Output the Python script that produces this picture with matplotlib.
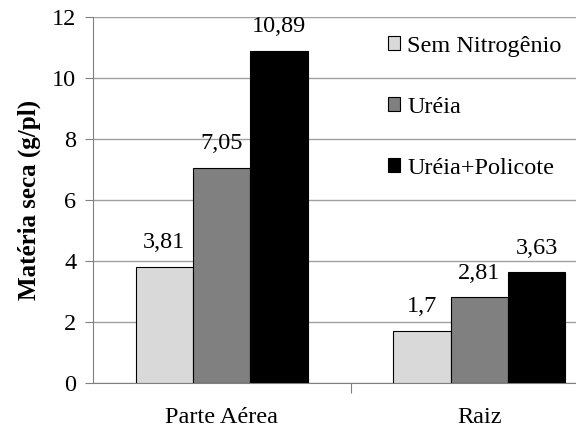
import numpy as np
import matplotlib.pyplot as plt

plt.rcParams['font.family'] = ['Liberation Serif', 'DejaVu Serif']

categorias = ['Parte Aérea', 'Raiz']
series = ['Sem Nitrogênio', 'Uréia', 'Uréia+Policote']
sem_n = [3.81, 1.7]
ureia = [7.05, 2.81]
ureia_pol = [10.89, 3.63]
rotulos = [['3,81', '1,7'], ['7,05', '2,81'], ['10,89', '3,63']]
cores = ['#d9d9d9', '#808080', '#000000']

fig = plt.figure(figsize=(5.76, 4.29), dpi=100)
ax = fig.add_axes([93/576, (429-383)/429, (608-93)/576, (383-17)/429])

x = np.arange(len(categorias))
w = 0.223
valores = [sem_n, ureia, ureia_pol]
for i, (v, c) in enumerate(zip(valores, cores)):
    bars = ax.bar(x + (i-1)*w, v, w, color=c, edgecolor='black', linewidth=0.8,
                  label=series[i], zorder=3)
    for b, t in zip(bars, rotulos[i]):
        ax.text(b.get_x() + b.get_width()/2, b.get_height() + 0.45, t,
                ha='center', va='bottom', fontsize=17.5)

ax.set_xlim(-0.5, 1.5)
ax.set_ylim(0, 12)
ax.set_yticks(range(0, 13, 2))
ax.set_xticks([0.5])
ax.set_xticklabels([''])
ax.tick_params(axis='x', length=7, color='#808080')
ax.tick_params(axis='y', length=6, color='#808080', labelsize=17.5, pad=6)
for xi, nome in zip(x, categorias):
    ax.text(xi, -0.8, nome, ha='center', va='top', fontsize=17.5)
ax.grid(axis='y', color='#a0a0a0', linewidth=1, zorder=0)
for s in ['top', 'right']:
    ax.spines[s].set_visible(False)
for s in ['left', 'bottom']:
    ax.spines[s].set_color('#808080')
ax.set_ylabel('Matéria seca (g/pl)', fontsize=18, fontweight='bold', labelpad=8)

leg = fig.legend(loc='upper left', bbox_to_anchor=(378/576, 1 - 26/429), frameon=False,
                 fontsize=17.5, labelspacing=1.65, handlelength=0.5, handleheight=0.5,
                 handletextpad=0.3, borderaxespad=0)
for h in leg.legend_handles:
    h.set_linewidth(0.8)

fig.savefig('out.png', dpi=100)
